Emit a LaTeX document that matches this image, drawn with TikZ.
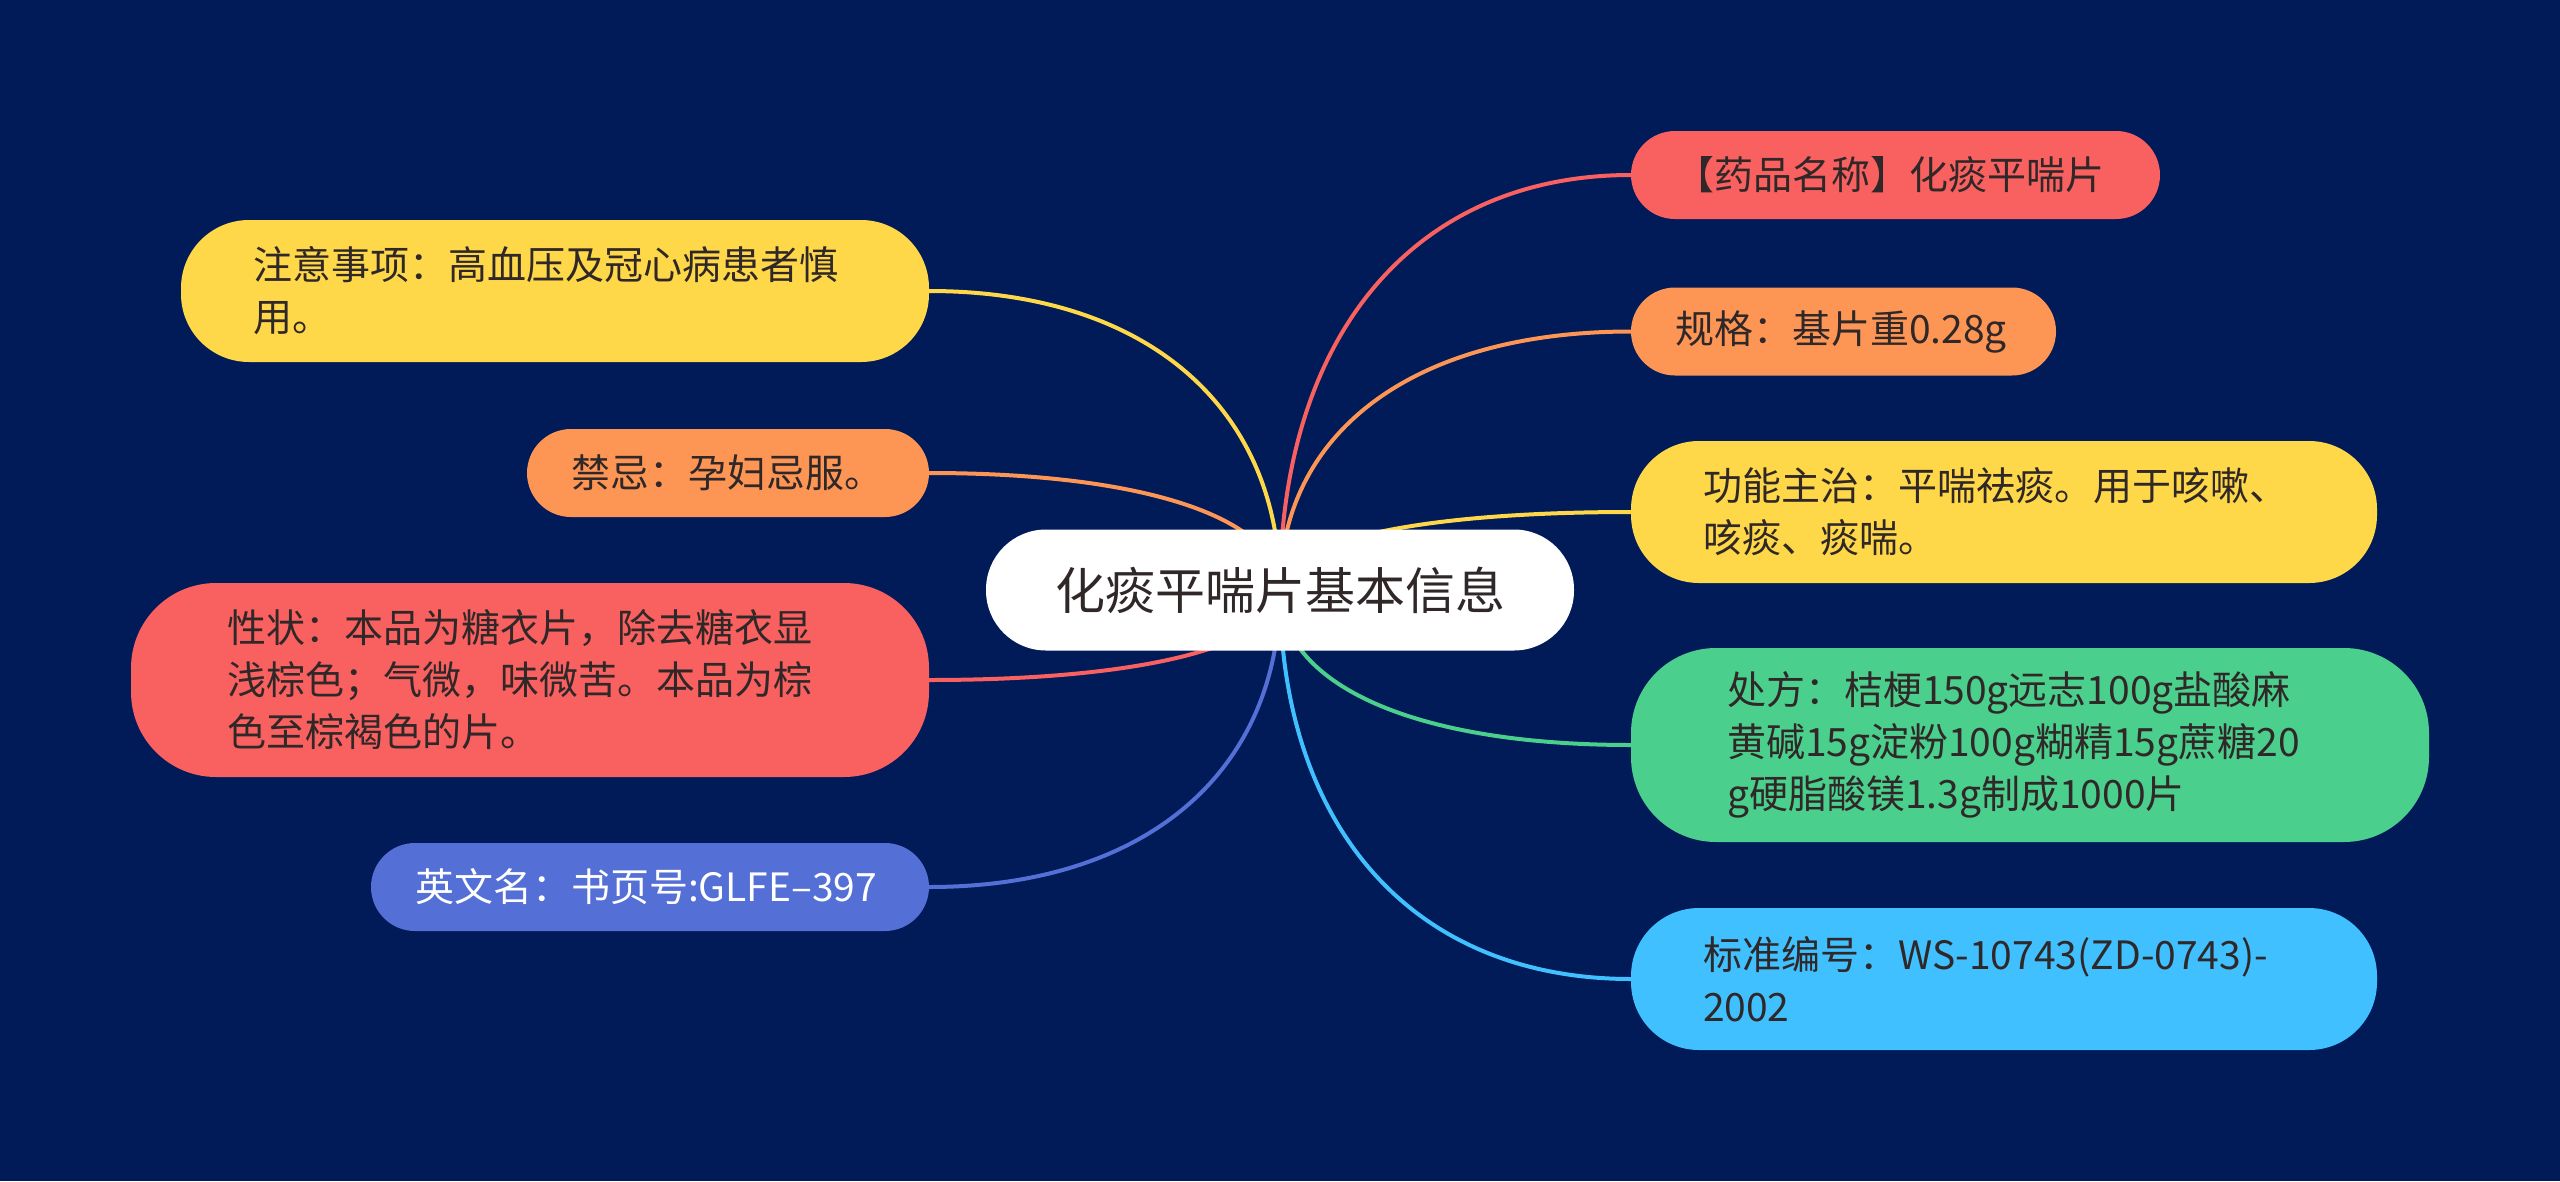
\documentclass[tikz,border=0pt]{standalone}
\usepackage{fontspec}
\setmainfont{Noto Sans CJK SC}
\usetikzlibrary{calc}
\definecolor{bgnavy}{RGB}{1,26,88}
\definecolor{cred}{RGB}{249,96,96}
\definecolor{corange}{RGB}{253,150,85}
\definecolor{cyellow}{RGB}{254,216,73}
\definecolor{cgreen}{RGB}{75,207,140}
\definecolor{clblue}{RGB}{64,192,254}
\definecolor{cblue}{RGB}{84,111,214}
\definecolor{txtdark}{RGB}{48,40,40}
\pgfdeclarelayer{bglayer}
\pgfdeclarelayer{edgelayer}
\pgfsetlayers{bglayer,edgelayer,main}
\tikzset{
  topic/.style={fill=#1, text=txtdark, font=\fontsize{39}{52}\selectfont,
    align=left, inner ysep=0pt, outer sep=0pt},
  one/.style={minimum height=88pt, rounded corners=44pt, inner xsep=44pt},
  two/.style={minimum height=142pt, rounded corners=68pt, inner xsep=72pt},
  three/.style={minimum height=194pt, rounded corners=85pt, inner xsep=96pt},
  edge/.style={line width=4pt, draw=#1},
  central/.style={fill=white, text=txtdark, font=\fontsize{50}{60}\selectfont,
    minimum width=588pt, minimum height=121pt, rounded corners=60pt,
    inner sep=0pt, outer sep=0pt}
}
\newcommand\linkto[3]{%
  \draw[edge=#1] (c.center) .. controls ($(c.center)!0.6!(c.center|-#2.#3)$)
    and ($(c.center|-#2.#3)!0.37!(#2.#3)$) .. (#2.#3);}
\begin{document}
\begin{tikzpicture}[x=1pt,y=-1pt]
\useasboundingbox (0,0) rectangle (2560,1181);
\begin{pgfonlayer}{bglayer}
\fill[bgnavy] (0,0) rectangle (2560,1181);
\end{pgfonlayer}

\node[central] (c) at (1280,590) {化痰平喘片基本信息};

% right side
\node[topic=cred, one, text width=441pt] (r1) at (1895.5,175) {【药品名称】化痰平喘片};
\node[topic=corange, one, text width=337pt] (r2) at (1843.5,331.5) {规格：基片重0.28g};
\node[topic=cyellow, two, text width=602pt] (r3) at (2004,512) {功能主治：平喘祛痰。用于咳嗽、\\咳痰、痰喘。};
\node[topic=cgreen, three, text width=606pt] (r4) at (2030,745) {处方：桔梗150g远志100g盐酸麻\\黄碱15g淀粉100g糊精15g蔗糖20\\g硬脂酸镁1.3g制成1000片};
\node[topic=clblue, two, text width=602pt] (r5) at (2004,979) {标准编号：WS-10743(ZD-0743)-\\2002};

% left side
\node[topic=cyellow, two, text width=604pt] (l1) at (555,291) {注意事项：高血压及冠心病患者慎\\用。};
\node[topic=corange, one, text width=314pt] (l2) at (728,473) {禁忌：孕妇忌服。};
\node[topic=cred, three, text width=606pt] (l3) at (530,680) {性状：本品为糖衣片，除去糖衣显\\浅棕色；气微，味微苦。本品为棕\\色至棕褐色的片。};
\node[topic=cblue, one, text=white, text width=470pt] (l4) at (650,887) {英文名：书页号:GLFE–397};

\begin{pgfonlayer}{edgelayer}
\linkto{cred}{r1}{west}
\linkto{corange}{r2}{west}
\linkto{cyellow}{r3}{west}
\linkto{cgreen}{r4}{west}
\linkto{clblue}{r5}{west}
\linkto{cyellow}{l1}{east}
\linkto{corange}{l2}{east}
\linkto{cred}{l3}{east}
\linkto{cblue}{l4}{east}
\end{pgfonlayer}
\end{tikzpicture}
\end{document}
